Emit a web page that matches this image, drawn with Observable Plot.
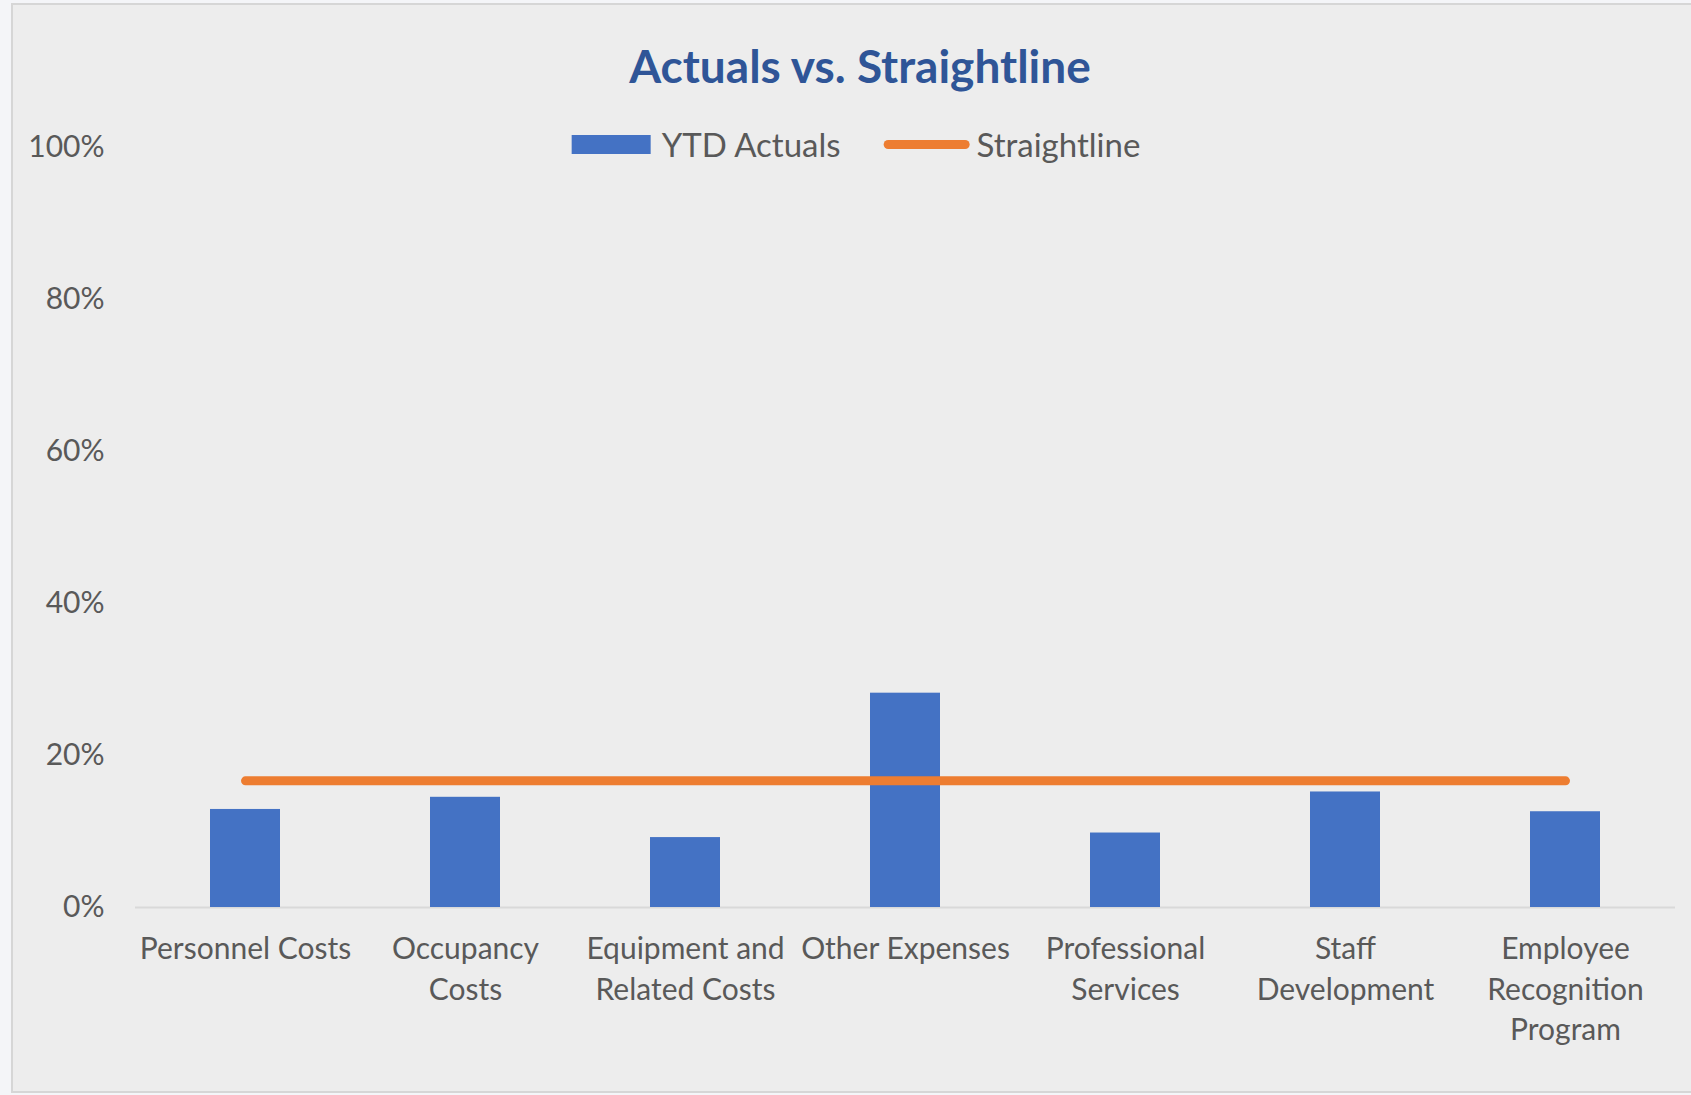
<!DOCTYPE html>
<html><head><meta charset="utf-8">
<script src="https://cdn.jsdelivr.net/npm/d3@7"></script>
<script src="https://cdn.jsdelivr.net/npm/@observablehq/plot@0.6"></script>
<style>
html,body{margin:0;padding:0;width:1691px;height:1095px;overflow:hidden;background:#F4F5F8;font-family:Lato,sans-serif;}
#frame{position:absolute;left:11px;top:3px;width:1700px;height:1086px;background:#EDEDED;border:2px solid #D6D6D6;}
#chart{position:absolute;left:0;top:0;}
#title{position:absolute;left:860px;top:65px;transform:translate(-50%,-50%);font-weight:bold;font-size:46px;color:#2F5597;white-space:nowrap;}
#legend{position:absolute;left:856px;top:144px;transform:translate(-50%,-50%);display:flex;align-items:center;white-space:nowrap;font-size:33px;color:#595959;}
.sw-bar{width:79px;height:19px;background:#4472C4;margin-right:11px;}
.sw-line{width:86px;height:9px;border-radius:5px;background:#ED7D31;margin-left:43px;margin-right:7px;}
</style></head>
<body>
<div id="frame"></div>
<div id="chart"></div>
<div id="title">Actuals vs. Straightline</div>
<div id="legend"><div class="sw-bar"></div><span>YTD Actuals</span><div class="sw-line"></div><span>Straightline</span></div>
<script>
const categories = ["Personnel Costs","Occupancy Costs","Equipment and Related Costs","Other Expenses","Professional Services","Staff Development","Employee Recognition Program"];
const tickLabels = ["Personnel Costs","Occupancy\nCosts","Equipment and\nRelated Costs","Other Expenses","Professional\nServices","Staff\nDevelopment","Employee\nRecognition\nProgram"];
const ytdActuals = [0.129,0.145,0.092,0.282,0.098,0.152,0.126];
const straightline = [0.1667,0.1667,0.1667,0.1667,0.1667,0.1667,0.1667];
const yTicks = [0,0.2,0.4,0.6,0.8,1];

const data = categories.map((c,i)=>({category:c, actual:ytdActuals[i], straight:straightline[i]}));

const chart = Plot.plot({
  width:1691, height:1095,
  marginLeft:135, marginRight:16, marginTop:147, marginBottom:188,
  style:{background:"transparent", fontFamily:"Lato, sans-serif", color:"#595959"},
  x:{domain:categories, paddingInner:0.68, paddingOuter:0.34, axis:null},
  y:{domain:[0,1], axis:null},
  marks:[
    Plot.ruleY([0],{stroke:"#D9D9D9", strokeWidth:2}),
    Plot.barY(data,{x:"category", y:"actual", fill:"#4472C4"}),
    Plot.line(data,{x:"category", y:"straight", stroke:"#ED7D31", strokeWidth:9, strokeLinecap:"round"}),
    Plot.axisY({ticks:yTicks, tickSize:0, tickPadding:31, tickFormat:d=>Math.round(d*100)+"%", fontSize:30, label:null}),
    Plot.axisX({tickSize:0, tickPadding:23, tickFormat:d=>tickLabels[categories.indexOf(d)], fontSize:30, lineHeight:1.35, label:null})
  ]
});
document.getElementById("chart").appendChild(chart);
</script>
</body></html>
